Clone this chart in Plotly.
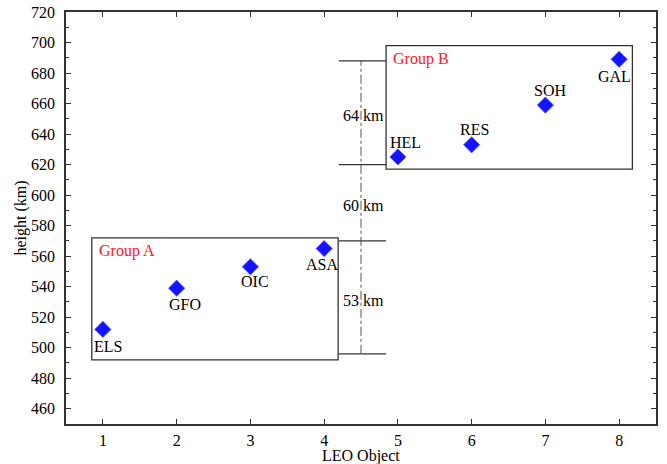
import plotly.graph_objects as go

# LEO objects and their orbit heights (km)
objects = ["ELS", "GFO", "OIC", "ASA", "HEL", "RES", "SOH", "GAL"]
object_index = [1, 2, 3, 4, 5, 6, 7, 8]
heights = [512, 539, 553, 565, 625, 633, 659, 689]

# height gaps shown between the groups (km)
gap_labels = ["53 km", "60 km", "64 km"]
# levels of the horizontal bracket ticks (km)
bracket_levels = [496, 570, 620, 688]

# group boxes: (name, x0, x1, y0, y1)
groups = [
    ("Group A", 0.85, 4.19, 492, 572),
    ("Group B", 4.84, 8.18, 617, 698),
]

# label placement (pixel shifts) and styling
label_shift = [(5, -17), (8, -16), (5, -15), (-2, -16),
               (8, 14), (3, 15), (5, 15), (-5, -17)]
FONT = "Liberation Serif, Times New Roman, serif"
AXIS_COLOR = "#333333"
FS = 16

fig = go.Figure()

fig.add_trace(go.Scatter(
    x=object_index, y=heights, mode="markers",
    marker=dict(symbol="diamond", size=12.5, color="#1414ff",
                line=dict(width=0.8, color="#5a5aff")),
    hoverinfo="text", text=objects, showlegend=False,
))

annotations = []
for name, xi, h, (dx, dy) in zip(objects, object_index, heights, label_shift):
    annotations.append(dict(x=xi, y=h, text=name, showarrow=False,
                            xshift=dx, yshift=dy,
                            font=dict(family=FONT, size=FS, color="black")))

shapes = []
for name, x0, x1, y0, y1 in groups:
    shapes.append(dict(type="rect", xref="x", yref="y", x0=x0, x1=x1, y0=y0, y1=y1,
                       line=dict(color=AXIS_COLOR, width=1.3)))
    annotations.append(dict(x=x0, y=y1, text=name, showarrow=False,
                            xanchor="left", yanchor="top", xshift=5, yshift=-2,
                            font=dict(family=FONT, size=FS, color="#ff1a1a")))

# bracket between the groups
for lvl in bracket_levels:
    shapes.append(dict(type="line", xref="x", yref="y", x0=4.2, x1=4.84, y0=lvl, y1=lvl,
                       line=dict(color=AXIS_COLOR, width=1.3)))
shapes.append(dict(type="line", xref="x", yref="y", x0=4.5, x1=4.5,
                   y0=bracket_levels[0], y1=bracket_levels[-1],
                   line=dict(color="#555555", width=1, dash="dashdot")))
for txt, lo, hi in zip(gap_labels, bracket_levels[:-1], bracket_levels[1:]):
    annotations.append(dict(x=4.5, y=(lo + hi) / 2, text=txt, showarrow=False,
                            xshift=2, yshift=-3,
                            font=dict(family=FONT, size=FS, color="black")))

# x-axis title, placed under the tick labels
annotations.append(dict(xref="paper", yref="paper", x=0.5, y=0, yshift=-32,
                        xanchor="center", yanchor="middle", showarrow=False,
                        text="LEO Object",
                        font=dict(family=FONT, size=FS, color="black")))

axis_common = dict(
    showline=True, linecolor=AXIS_COLOR, linewidth=1.5, mirror="ticks",
    ticks="inside", ticklen=5, tickwidth=1.2, tickcolor=AXIS_COLOR,
    showgrid=False, zeroline=False, automargin=False,
    tickfont=dict(family=FONT, size=FS, color="black"),
)

fig.update_layout(
    width=667, height=464,
    margin=dict(l=66, r=11, t=12, b=40),
    paper_bgcolor="white", plot_bgcolor="white",
    shapes=shapes, annotations=annotations,
    xaxis=dict(range=[0.5, 8.5], tickmode="linear", tick0=1, dtick=1,
               ticklabelstandoff=1,
               **axis_common),
    yaxis=dict(range=[450, 720], tickmode="linear", tick0=460, dtick=20,
               ticklabelstandoff=6,
               minor=dict(ticks="inside", ticklen=3, dtick=10, tickcolor=AXIS_COLOR,
                          tickwidth=1),
               title=dict(text="height (km)", standoff=0,
                          font=dict(family=FONT, size=FS, color="black")),
               **axis_common),
)

fig.write_html("out.html")
